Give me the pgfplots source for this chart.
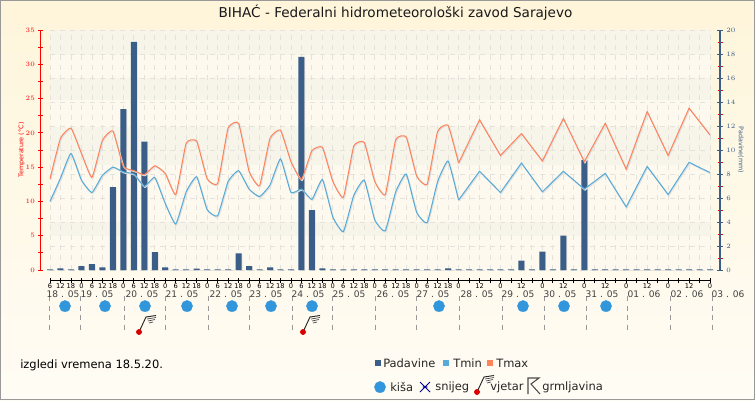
\documentclass[border=0pt]{standalone}
\usepackage{pgfplots}
\usepackage{pgfplotstable}
\usepackage{fontspec}
\setmainfont{DejaVu Sans}
\pgfplotsset{compat=1.18}
\definecolor{barcol}{RGB}{58,94,135}
\definecolor{mincol}{RGB}{85,170,215}
\definecolor{maxcol}{RGB}{255,130,90}
\definecolor{raincol}{RGB}{50,150,220}
\definecolor{gridcol}{RGB}{228,226,218}
\definecolor{bandA}{RGB}{247,244,233}
\definecolor{bandB}{RGB}{253,249,238}
\definecolor{paneltop}{RGB}{254,245,218}
\definecolor{panelmid}{RGB}{255,249,233}
\definecolor{panelbot}{RGB}{255,252,245}
% one px of the reference
\newlength{\px}\setlength{\px}{0.75pt}

% 6 hourly up to 27.05, 12 hourly after that
\pgfplotstableread{
i tmin tmax
0 10.0 13.3
1 13.4 19.2
2 17.0 20.7
3 13.1 17.0
4 11.3 13.5
5 13.8 18.9
6 15.0 20.3
7 14.3 15.1
8 14.0 14.5
9 12.2 13.9
10 13.5 15.2
11 9.7 14.1
12 6.7 11.0
13 11.4 18.5
14 13.6 18.8
15 8.8 13.3
16 7.9 12.6
17 12.9 20.7
18 14.5 21.4
19 11.8 14.4
20 10.7 12.3
21 12.4 19.2
22 16.2 20.4
23 11.3 15.8
24 11.8 13.2
25 10.3 17.4
26 13.2 17.9
27 7.7 12.9
28 5.6 10.6
29 10.9 18.1
30 13.1 18.6
31 7.3 12.9
32 5.7 11.0
33 11.4 19.0
34 14.0 19.4
35 8.4 13.7
36 6.9 12.5
37 12.9 20.2
38 15.9 21.1
39 10.2 15.6
}\tempsix
\pgfplotstableread{
i tmin tmax
39 10.2 15.6
41 14.4 21.9
43 11.3 16.7
45 15.6 19.9
47 11.4 15.9
49 14.4 22.1
51 11.8 15.8
53 14.1 21.4
55 9.2 14.7
57 15.1 23.1
59 11.0 16.7
61 15.7 23.6
63 14.2 19.7
}\temptwelve
\pgfplotstableread{
i mm
0 0.05
1 0.14
2 0.05
3 0.33
4 0.50
5 0.22
6 6.90
7 13.40
8 19.00
9 10.70
10 1.50
11 0.22
12 0.05
13 0.05
14 0.12
15 0.05
16 0.05
17 0.05
18 1.39
19 0.33
20 0.05
21 0.22
22 0.05
23 0.05
24 17.75
25 5.00
26 0.14
27 0.05
28 0.05
29 0.05
30 0.05
31 0.05
32 0.05
33 0.05
34 0.05
35 0.05
36 0.05
37 0.05
38 0.14
39 0.05
40 0.05
41 0.05
42 0.05
43 0.05
44 0.05
45 0.78
46 0.05
47 1.53
48 0.05
49 2.86
50 0.05
51 9.15
52 0.05
53 0.05
54 0.05
55 0.05
56 0.05
57 0.05
58 0.05
59 0.05
60 0.05
61 0.05
62 0.05
63 0.05
}\rainmm
% symbols, all in px of the picture
\pgfplotstableread{
x y
65 306
105 306
145 306
187 306
232 306
271 306
312 306
439 306
523 306
564 306
606 306
}\rainmarks
\pgfplotstableread{
x y
139 332
303 332
}\windmarks

\pgfdeclareplotmark{drop}{\fill (0,-5.5\px) .. controls (3.5\px,-5.5\px) and (5.5\px,-3\px) .. (5.5\px,0) .. controls (5.5\px,3\px) and (3\px,5.5\px) .. (0,5.5\px) .. controls (-3\px,5.5\px) and (-5.5\px,3\px) .. (-5.5\px,0) .. controls (-5.5\px,-3\px) and (-3.5\px,-5.5\px) .. (0,-5.5\px) -- cycle;}
\pgfdeclareplotmark{wind}{%
  \draw[black!85,line width=.7pt] (0,0) -- (7\px,15\px) -- (17\px,16.5\px);
  \draw[black!75,line width=.5pt] (8\px,13\px) -- (17\px,14.5\px) (9\px,11\px) -- (16\px,12.5\px) (10\px,9\px) -- (14\px,10\px);
  \fill[red!85!black] (0,0) circle (2.6\px);}
\pgfdeclareplotmark{thunder}{%
  \draw[black!70,line width=.8pt] (-5\px,-8\px) -- (-5\px,8\px) -- (6\px,8\px) -- (-2\px,2\px) -- (7\px,-8\px);}
\pgfdeclareplotmark{snow}{%
  \draw[blue!60!black,line width=.6pt] (-5\px,-5\px) -- (5\px,5\px) (-5\px,5\px) -- (5\px,-5\px) (-2.5\px,0) -- (2.5\px,0);}

\pgfplotsset{
  base/.style={scale only axis,anchor=south west,clip=false,
    tick label style={font=\fontsize{6}{7}\selectfont}},
  dx/.style={at={(50\px,130\px)},width=660\px,xmin=0,xmax=63},
  temp/.style={height=240\px,ymin=0,ymax=35},
  blank/.style={xtick=\empty,ytick=\empty,axis line style={draw=none}},
}

\begin{document}
\begin{tikzpicture}[x=\px,y=\px]
\useasboundingbox (0,0) rectangle (755,400);
\shade[top color=paneltop,middle color=panelmid,bottom color=panelbot] (0,0) rectangle (755,400);
\draw[black!40,line width=1.5\px] (.7,.7) rectangle (754.3,399.3);

% bands
\begin{axis}[base,at={(50\px,130\px)},width=661\px,xmin=0,xmax=63.1,temp,blank]
  \addplot[fill=bandB,draw=none] coordinates {(0,0)(63.1,0)(63.1,35)(0,35)} -- cycle;
  \addplot[fill=bandA,draw=none] coordinates {(0,31.35)(63.1,31.35)(63.1,35)(0,35)} -- cycle;
  \addplot[fill=bandA,draw=none] coordinates {(0,24.8)(63.1,24.8)(63.1,28)(0,28)} -- cycle;
  \addplot[fill=bandA,draw=none] coordinates {(0,15.3)(63.1,15.3)(63.1,20.85)(0,20.85)} -- cycle;
  \addplot[fill=bandA,draw=none] coordinates {(0,5)(63.1,5)(63.1,7)(0,7)} -- cycle;
\end{axis}

% grid
\begin{axis}[scale only axis,anchor=south west,at={(50\px,130\px)},width=661\px,xmin=0,xmax=63.1,temp,
  axis line style={draw=none},
  xtick={0,...,63},xticklabels={},ytick={0,3.5,...,35},yticklabels={},
  xmajorgrids,ymajorgrids,
  major tick length=0pt,
  grid style={gridcol,dash pattern=on 5\px off 5\px,line width=.6pt}]
  \addplot[draw=none,forget plot] coordinates {(0,0)};
\end{axis}

% left scale, red
\begin{axis}[base,at={(40.7\px,130\px)},width=679.3\px,height=240\px,xmin=0,xmax=1,ymin=0,ymax=35,
  axis x line=none,axis y line*=left,
  ytick={0,5,...,35},minor ytick={2.5,7.5,...,32.5},
  y axis line style={red,-,line width=.8pt},
  major tick style={red,line width=.7pt},minor tick style={red,line width=.7pt},
  tick align=center,
  major tick length=5\px,minor tick length=5\px,
  y tick label style={red,font=\fontsize{4.8}{5}\selectfont,xshift=1pt},
  ylabel={Temperature (°C)},
  ylabel style={red,font=\fontsize{4.8}{5}\selectfont,yshift=-6pt},
  ]
  \addplot[draw=none,forget plot] coordinates {(0,0)};
\end{axis}

% right scale, blue with red half ticks
\begin{axis}[base,at={(40.7\px,130\px)},width=679.3\px,height=240\px,xmin=0,xmax=1,ymin=0,ymax=20,
  axis x line=none,axis y line*=right,
  ytick={0,2,...,20},minor ytick={1,3,...,19},
  y axis line style={barcol,-,line width=.8pt},
  major tick style={barcol,line width=.7pt},
  minor tick style={red,line width=.7pt},
  tick align=center,
  major tick length=6\px,minor tick length=5\px,
  y tick label style={barcol,font=\fontsize{4.8}{5}\selectfont,xshift=-1pt},
  ylabel={Padavine(mm)},
  ylabel style={barcol,font=\fontsize{4.8}{5}\selectfont,rotate=180,yshift=-5pt},
  ]
  \addplot[draw=none,forget plot] coordinates {(0,0)};
\end{axis}

% rain bars
\begin{axis}[base,dx,height=240\px,ymin=0,ymax=20,blank]
  \addplot[ybar,bar width=6\px,fill=black!25,draw=none,opacity=.5,xshift=.8\px,yshift=-.6\px] table[x=i,y=mm] {\rainmm};
  \addplot[ybar,bar width=6\px,fill=barcol,draw=none] table[x=i,y=mm] {\rainmm};
\end{axis}

% temperature lines
\begin{axis}[base,dx,temp,blank]
  \addplot[black!12,line width=1pt,smooth,tension=.25,xshift=.7\px,yshift=-.9\px] table[x=i,y=tmin] {\tempsix};
  \addplot[black!12,line width=1pt,smooth,tension=.25,xshift=.7\px,yshift=-.9\px] table[x=i,y=tmax] {\tempsix};
  \addplot[black!12,line width=1pt,xshift=.7\px,yshift=-.9\px] table[x=i,y=tmin] {\temptwelve};
  \addplot[black!12,line width=1pt,xshift=.7\px,yshift=-.9\px] table[x=i,y=tmax] {\temptwelve};
  \addplot[mincol,line width=.75pt,smooth,tension=.25] table[x=i,y=tmin] {\tempsix};
  \addplot[maxcol,line width=.75pt,smooth,tension=.25] table[x=i,y=tmax] {\tempsix};
  \addplot[mincol,line width=.75pt] table[x=i,y=tmin] {\temptwelve};
  \addplot[maxcol,line width=.75pt] table[x=i,y=tmax] {\temptwelve};
\end{axis}

% time axis
\begin{axis}[base,at={(50\px,120\px)},width=660\px,height=10\px,xmin=0,xmax=63,ymin=0,ymax=1,
  axis y line=none,axis x line*=bottom,
  x axis line style={-,black,line width=.7pt},
  xtick={0,...,63},
  xticklabels={6,12,18,0,6,12,18,0,6,12,18,0,6,12,18,0,6,12,18,0,6,12,18,0,6,12,18,0,6,12,18,0,6,12,18,0,6,12,18,0,,12,,0,,12,,0,,12,,0,,12,,0,,12,,0,,12,,0},
  xtick align=center,major tick length=5\px,major tick style={black,line width=.6pt},
  x tick label style={font=\fontsize{5}{5}\selectfont,black,inner sep=1pt,yshift=1\px},
  ]
  \addplot[draw=none,forget plot] coordinates {(0,0)};
\end{axis}

% lower panel, in px of the picture
\begin{axis}[scale only axis,at={(0,0)},anchor=south west,width=755\px,height=400\px,
  xmin=0,xmax=755,ymin=0,ymax=400,y dir=reverse,hide axis,clip=false]
  \pgfplotsinvokeforeach{49.3,80.3,124,165,208,249,292,332,375,416,459,502,544,586,627,670,712}{
    \addplot[black!40,line width=.5pt,dash pattern=on 5\px off 4.5\px,forget plot] coordinates {(#1,296)(#1,332)};
  }
  \addplot[only marks,mark=drop,color=raincol] table {\rainmarks};
  \addplot[only marks,mark=wind] table {\windmarks};
  % legend symbols
  \addplot[only marks,mark=square*,mark size=2.6\px,color=barcol] coordinates {(378,363)};
  \addplot[only marks,mark=square*,mark size=2.6\px,color=mincol] coordinates {(446,363)};
  \addplot[only marks,mark=square*,mark size=2.6\px,color=maxcol] coordinates {(490,363)};
  \addplot[only marks,mark=drop,color=raincol] coordinates {(380,387)};
  \addplot[only marks,mark=snow] coordinates {(425,387)};
  \addplot[only marks,mark=wind] coordinates {(477,392)};
  \addplot[only marks,mark=thunder] coordinates {(533,386)};
\end{axis}

\foreach \d/\x in {18 . 05/63,19 . 05/97,20 . 05/142,21 . 05/182,22 . 05/226,23 . 05/266,24 . 05/308,25 . 05/349,26 . 05/393,27 . 05/433,28 . 05/477,29 . 05/518,30 . 05/560,31 . 05/602,01 . 06/644,02 . 06/687,03 . 06/728}
  \node[font=\fontsize{6.8}{8}\selectfont,text=black!75,inner sep=0pt] at (\x,106) {\d};

\node[font=\fontsize{10.2}{12}\selectfont,text=black!90,inner sep=0pt] at (395.5,387) {BIHAĆ - Federalni hidrometeorološki zavod Sarajevo};
\node[font=\fontsize{8.6}{10}\selectfont,anchor=west,inner sep=0pt] at (20,35) {izgledi vremena 18.5.20.};
\begin{scope}[font=\fontsize{8.6}{10}\selectfont,inner sep=0pt,text=black!85]
  \node[anchor=west] at (383,37) {Padavine};
  \node[anchor=west] at (453,37) {Tmin};
  \node[anchor=west] at (496,37) {Tmax};
  \node[anchor=west] at (390,13) {kiša};
  \node[anchor=west] at (435,13) {snijeg};
  \node[anchor=west] at (490,13) {vjetar};
  \node[anchor=west] at (542,13) {grmljavina};
\end{scope}
\end{tikzpicture}
\end{document}
